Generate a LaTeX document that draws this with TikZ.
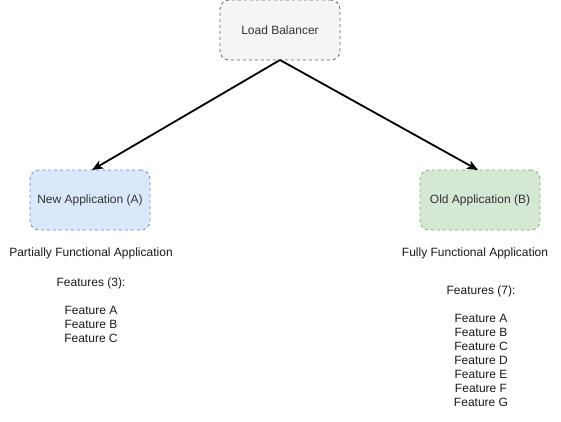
\documentclass[tikz,border=0pt]{standalone}
\usepackage{fontspec}
\setmainfont{Liberation Sans}
\usetikzlibrary{arrows.meta}
\definecolor{lbfill}{HTML}{F5F5F5}
\definecolor{lbline}{HTML}{666666}
\definecolor{afill}{HTML}{DAE8FC}
\definecolor{aline}{HTML}{6C8EBF}
\definecolor{bfill}{HTML}{D5E8D4}
\definecolor{bline}{HTML}{82B366}
\definecolor{txt}{HTML}{333333}
\begin{document}
\begin{tikzpicture}[x=1pt,y=-1pt,
  box/.style={draw, rounded corners=9pt, minimum width=120pt, minimum height=60pt,
    dash pattern=on 3pt off 3pt, line width=0.8pt, text=txt, font=\fontsize{12}{14}\selectfont, inner sep=0pt},
  lbl/.style={align=center, font=\fontsize{12}{14}\selectfont, inner sep=0pt, text=black!90},
  conn/.style={line width=1.8pt, -{Stealth[length=11pt,width=9pt,inset=3pt]}}]
\useasboundingbox (0,0) rectangle (561,421);
\node[box, fill=lbfill, draw=lbline] (lb) at (280,30) {Load Balancer};
\node[box, fill=afill, draw=aline] (na) at (90,200) {New Application (A)};
\node[box, fill=bfill, draw=bline] (ob) at (480,200) {Old Application (B)};
\coordinate (src) at (280,60);
\coordinate (ta) at (92,170);
\coordinate (tb) at (478,170);
\draw[conn] (src) -- (ta);
\draw[conn] (src) -- (tb);
\node[lbl] (pt) at (91,253) {Partially Functional Application};
\node[lbl] (pf) at (91,310) {Features (3):\\[14pt]Feature A\\Feature B\\Feature C};
\node[lbl] (ft) at (475,253) {Fully Functional Application};
\node[lbl] (ff) at (481,346) {Features (7):\\[14pt]Feature A\\Feature B\\Feature C\\Feature D\\Feature E\\Feature F\\Feature G};
\end{tikzpicture}
\end{document}
